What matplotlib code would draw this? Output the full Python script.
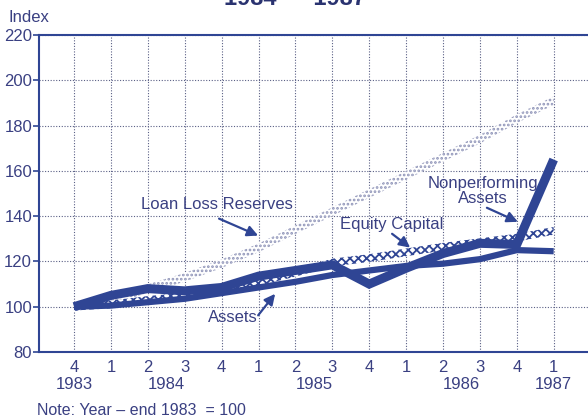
import matplotlib.pyplot as plt
import numpy as np

plt.rcParams['font.family'] = ['Liberation Sans', 'DejaVu Sans']
plt.rcParams['hatch.linewidth'] = 1.3

# quarterly index values, year-end 1983 = 100
quarter_labels = ['4', '1', '2', '3', '4', '1', '2', '3', '4', '1', '2', '3', '4', '1']
year_labels = ['1983', '1984', '1985', '1986', '1987']
year_pos = [0, 2.5, 6.5, 10.5, 13]
loan_loss = [100, 103, 108, 113, 119, 126, 134, 142, 150, 158, 166, 174, 183, 191]
equity = [100, 101, 103, 104.5, 107, 111, 115, 119.5, 121.5, 124, 126.5, 128.5, 130.5, 133.5]
assets = [100, 100.5, 102, 103.5, 106, 108.5, 111, 114, 116, 118, 119, 121, 125, 124.5]
nonperf = [100, 105, 108, 107, 108.5, 113.5, 116, 118.5, 110, 117, 123.5, 128, 127.5, 165]

navy = '#2f4594'
text_c = '#3a4082'
grid_c = '#5a5f85'

fig = plt.figure(figsize=(5.88, 4.19), dpi=100)
ax = fig.add_axes([39 / 588, 67 / 419, 549 / 588, 317 / 419])

x = np.arange(len(quarter_labels))

# loan loss reserves: light dotted ribbon
ll = np.array(loan_loss)
ax.fill_between(x, ll - 1.9, ll + 1.9, facecolor='white', edgecolor='#8f94b8',
                hatch='....', linewidth=0, zorder=2)

# equity capital: checkered ribbon
eq = np.array(equity)
ax.fill_between(x, eq - 1.7, eq + 1.7, facecolor='white', edgecolor=navy,
                hatch='xxxx', linewidth=0, zorder=3)

ax.plot(x, assets, color=navy, lw=4.5, solid_capstyle='butt', zorder=4)
ax.plot(x, nonperf, color=navy, lw=6.5, solid_capstyle='butt',
        solid_joinstyle='miter', zorder=5)

ax.set_xlim(-0.95, 13.93)
ax.set_ylim(80, 220)
ax.set_yticks(range(80, 221, 20))
ax.set_xticks(x)
ax.set_xticklabels(quarter_labels)
ax.tick_params(axis='x', length=0, pad=6, labelsize=12, labelcolor=text_c)
ax.tick_params(axis='y', length=4, width=1.2, color=navy, pad=1,
               labelsize=12, labelcolor=text_c)
for yr, pos in zip(year_labels, year_pos):
    ax.text(pos, -0.101, yr, transform=ax.get_xaxis_transform(), ha='center',
            va='center', fontsize=12, color=text_c)

ax.grid(True, color=grid_c, lw=0.8, linestyle=(0, (1, 1.5)), zorder=1)
ax.set_axisbelow(True)
for side in ['left', 'bottom', 'top']:
    ax.spines[side].set_color(navy)
    ax.spines[side].set_linewidth(1.5)
ax.spines['right'].set_visible(False)

arrow = dict(arrowstyle='-|>', color=navy, lw=1.6, mutation_scale=16,
             shrinkA=0, shrinkB=0)
lab = dict(fontsize=12, color=text_c, ha='center', va='center', zorder=6)
ax.text(3.88, 145, 'Loan Loss Reserves', **lab)
ax.annotate('', xy=(4.99, 131.4), xytext=(3.93, 138.9), arrowprops=arrow)
ax.text(8.62, 136.5, 'Equity Capital', **lab)
ax.annotate('', xy=(9.11, 126.1), xytext=(8.62, 132.2), arrowprops=arrow)
ax.text(11.08, 151.2, 'Nonperforming\nAssets', linespacing=1.0, **lab)
ax.annotate('', xy=(12.03, 137.5), xytext=(11.19, 143.7), arrowprops=arrow)
ax.text(4.31, 95.1, 'Assets', **lab)
ax.annotate('', xy=(5.45, 105.7), xytext=(4.99, 96.2), arrowprops=arrow)

fig.text(9 / 588, 1 - 17 / 419, 'Index', fontsize=12, color=text_c, va='center')
fig.text(37 / 588, 1 - 410 / 419, 'Note: Year \u2013 end 1983  = 100', fontsize=11.5,
         color=text_c, va='center')
fig.text(295 / 588, 1 - 5 / 419, '1984 \u2014 1987', fontsize=17, fontweight='bold',
         color='#2a3370', ha='center', va='baseline')

fig.savefig('out.png', dpi=100)
